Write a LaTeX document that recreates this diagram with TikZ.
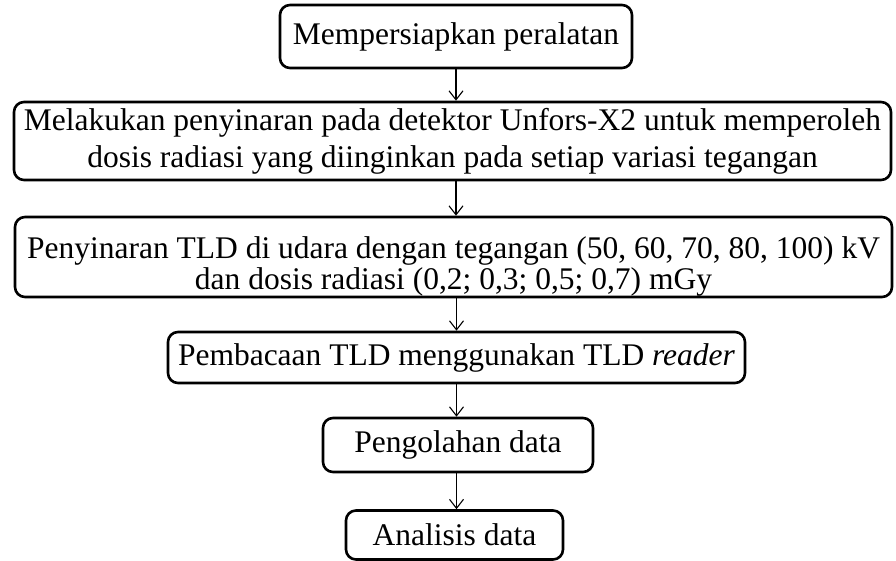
\documentclass[tikz,border=0pt]{standalone}
\usepackage{fontspec}
\setmainfont{Liberation Serif}
\usetikzlibrary{arrows.meta}
\begin{document}
\begin{tikzpicture}[x=1pt,y=-1pt,
    stepbox/.style={draw,line width=2.6pt,rounded corners=10pt,align=center,
      inner sep=0pt,font=\fontsize{31.5}{34}\selectfont},
    flow/.style={line width=1.1pt,-{Straight Barb[length=9pt,width=14pt]}}]
  \useasboundingbox (0,0) rectangle (896,561);
  \node[stepbox,minimum width=352,minimum height=63] (prep) at (456,36.5) {Mempersiapkan peralatan};
  \node[stepbox,minimum width=877,minimum height=78] (irr) at (452.5,141)
    {Melakukan penyinaran pada detektor Unfors-X2 untuk memperoleh\\[3pt]dosis radiasi yang diinginkan pada setiap variasi tegangan};
  \node[stepbox,minimum width=877,minimum height=80] (tld) at (453.5,257)
    {\rule{0pt}{40pt}Penyinaran TLD di udara dengan tegangan (50, 60, 70, 80, 100) kV\\[-3pt]dan dosis radiasi (0,2; 0,3; 0,5; 0,7) mGy};
  \node[stepbox,minimum width=577,minimum height=51] (read) at (456.5,357.5) {Pembacaan TLD menggunakan TLD \textit{reader}};
  \node[stepbox,minimum width=270,minimum height=54] (proc) at (458,445) {Pengolahan data};
  \node[stepbox,minimum width=217,minimum height=49] (anal) at (454.5,535) {Analisis data};
  \draw[flow] (prep.south) -- (prep.south |- irr.north);
  \draw[flow] (prep.south |- irr.south) -- (prep.south |- tld.north);
  \draw[flow] (read.north |- tld.south) -- (read.north);
  \draw[flow] (read.south) -- (read.south |- proc.north);
  \draw[flow] (read.south |- proc.south) -- (read.south |- anal.north);
\end{tikzpicture}
\end{document}
